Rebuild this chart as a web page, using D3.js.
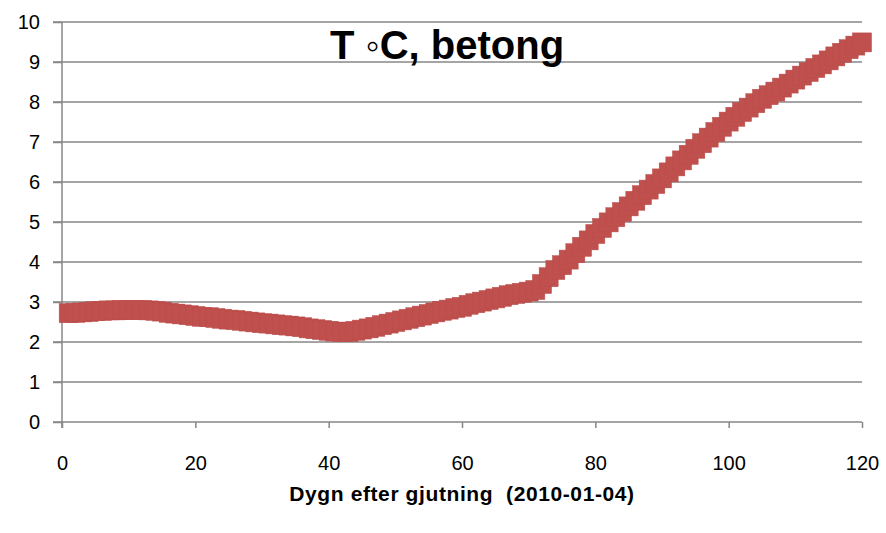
<!DOCTYPE html>
<html>
<head>
<meta charset="utf-8">
<script src="https://cdn.jsdelivr.net/npm/d3@7"></script>
<style>
  html, body { margin: 0; padding: 0; background: #fff; }
  svg { display: block; }
</style>
</head>
<body>
<svg id="chart" width="886" height="533"></svg>
<script>
// ---- data ----
const days = d3.range(1, 121);
const temps = [
  2.72, 2.73, 2.74, 2.75, 2.77, 2.78, 2.79, 2.79, 2.80, 2.80,
  2.80, 2.80, 2.79, 2.78, 2.76, 2.73, 2.71, 2.69, 2.67, 2.65,
  2.63, 2.62, 2.60, 2.58, 2.56, 2.55, 2.53, 2.51, 2.49, 2.47,
  2.46, 2.44, 2.42, 2.41, 2.39, 2.37, 2.34, 2.32, 2.30, 2.28,
  2.26, 2.25, 2.25, 2.28, 2.31, 2.34, 2.38, 2.42, 2.46, 2.50,
  2.54, 2.58, 2.62, 2.66, 2.70, 2.74, 2.78, 2.81, 2.85, 2.88,
  2.93, 2.97, 3.01, 3.05, 3.09, 3.13, 3.17, 3.20, 3.23, 3.26,
  3.30, 3.45, 3.62, 3.80, 3.92, 4.06, 4.22, 4.38, 4.54, 4.70,
  4.85, 4.99, 5.12, 5.25, 5.39, 5.53, 5.67, 5.81, 5.95, 6.09,
  6.24, 6.39, 6.54, 6.68, 6.83, 6.97, 7.11, 7.25, 7.38, 7.51,
  7.63, 7.75, 7.86, 7.97, 8.08, 8.17, 8.26, 8.36, 8.46, 8.56,
  8.66, 8.75, 8.85, 8.94, 9.04, 9.14, 9.23, 9.32, 9.41, 9.49
];
const xTicks = [0, 20, 40, 60, 80, 100, 120];
const yTicks = [0, 1, 2, 3, 4, 5, 6, 7, 8, 9, 10];
const titleText = "T \u25E6C, betong";
const xTitleText = "Dygn efter gjutning  (2010-01-04)";

// ---- layout ----
const svg = d3.select("#chart");
const pL = 62, pR = 862, pT = 22, pB = 422;
const x = d3.scaleLinear().domain([0, 120]).range([pL, pR]);
const y = d3.scaleLinear().domain([0, 10]).range([pB, pT]);
const gridColor = "#878787";
const font = "'Liberation Sans', Arial, sans-serif";

// gridlines
svg.append("g").selectAll("line").data(yTicks.filter(d => d > 0)).join("line")
  .attr("x1", pL - 9).attr("x2", pR)
  .attr("y1", d => y(d)).attr("y2", d => y(d))
  .attr("stroke", gridColor).attr("stroke-width", 1.5);

// y axis
const yAxis = svg.append("g").attr("transform", `translate(${pL},0)`)
  .call(d3.axisLeft(y).tickValues(yTicks).tickSize(9).tickPadding(13).tickFormat(d3.format("d")));
yAxis.select(".domain").attr("stroke", gridColor).attr("stroke-width", 1.5)
  .attr("d", `M0,${pT}V${pB + 6}`);
yAxis.selectAll(".tick line").attr("stroke", gridColor).attr("stroke-width", 1.5);
yAxis.selectAll(".tick text").attr("font-family", font).attr("font-size", 20).attr("fill", "#000");

// x axis
const xAxis = svg.append("g").attr("transform", `translate(0,${pB})`)
  .call(d3.axisBottom(x).tickValues(xTicks).tickSize(6).tickPadding(28).tickFormat(d3.format("d")));
xAxis.select(".domain").attr("stroke", gridColor).attr("stroke-width", 1.5)
  .attr("d", `M${pL - 9},0H${pR}`);
xAxis.selectAll(".tick line").attr("stroke", gridColor).attr("stroke-width", 1.5);
xAxis.selectAll(".tick text").attr("font-family", font).attr("font-size", 20).attr("fill", "#000");

// markers
const ms = 19;
svg.append("g").selectAll("rect").data(days).join("rect")
  .attr("x", (d, i) => x(d) - ms / 2)
  .attr("y", (d, i) => y(temps[i]) - ms / 2)
  .attr("width", ms).attr("height", ms)
  .attr("fill", "#C0504D")
  .attr("stroke", "#BA4B48").attr("stroke-width", 0.5);

// title
svg.append("text").attr("x", 447).attr("y", 59)
  .attr("text-anchor", "middle").attr("font-family", font)
  .attr("font-weight", "bold").attr("font-size", 40).attr("fill", "#000")
  .text(titleText);

// x axis title
svg.append("text").attr("x", 462).attr("y", 501)
  .attr("text-anchor", "middle").attr("font-family", font)
  .attr("font-weight", "bold").attr("font-size", 21).attr("fill", "#000")
  .attr("letter-spacing", 0.6)
  .style("white-space", "pre")
  .text(xTitleText);
</script>
</body>
</html>
